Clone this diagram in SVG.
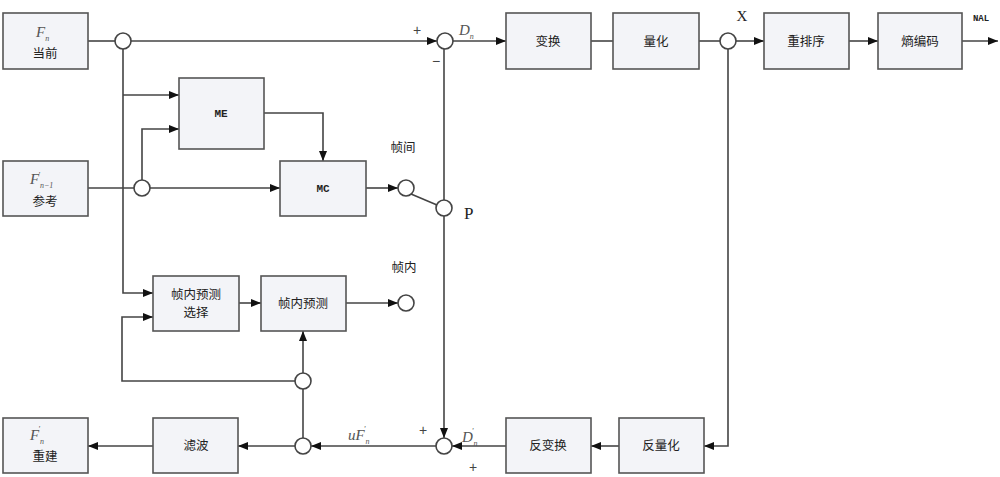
<svg xmlns="http://www.w3.org/2000/svg" width="1000" height="477" viewBox="0 0 1000 477">
<defs>
<marker id="ah" markerWidth="10" markerHeight="8" refX="10" refY="4" orient="auto" markerUnits="userSpaceOnUse">
<path d="M0,0 L10,4 L0,8 Z" fill="#111"/>
</marker>
<style>
.box{fill:#f3f4f8;stroke:#555;stroke-width:1.6}
.t{font-family:"Noto Sans CJK SC","Liberation Sans",sans-serif;font-size:12.5px;fill:#222;text-anchor:middle}
.m{font-family:"Liberation Mono",monospace;font-size:11px;font-weight:bold;fill:#222;text-anchor:middle}
.v{font-family:"Liberation Serif",serif;font-style:italic;font-size:15px;fill:#555}
.s{font-family:"Liberation Serif",serif;font-style:italic;font-size:8px;fill:#555}
.sg{font-family:"Liberation Sans",sans-serif;font-size:14px;fill:#444;text-anchor:middle}
.ln{fill:none;stroke:#444;stroke-width:1.6}
.cir{fill:#fff;stroke:#444;stroke-width:1.6}
</style>
</defs>
<rect width="1000" height="477" fill="#fff"/>
<g id="connectors">
<path class="ln" d="M88,41 H115"/>
<path class="ln" d="M131,41 H437" marker-end="url(#ah)"/>
<path class="ln" d="M123,49 V293 H153" marker-end="url(#ah)"/>
<path class="ln" d="M123,95 H179" marker-end="url(#ah)"/>
<path class="ln" d="M88,188 H134"/>
<path class="ln" d="M150,188 H280" marker-end="url(#ah)"/>
<path class="ln" d="M142,180 V129 H179" marker-end="url(#ah)"/>
<path class="ln" d="M264,113 H323 V161" marker-end="url(#ah)"/>
<path class="ln" d="M366,188 H398" marker-end="url(#ah)"/>
<path class="ln" d="M411,194 L437,205"/>
<path class="ln" d="M453,41 H506" marker-end="url(#ah)"/>
<path class="ln" d="M591,41 H613"/>
<path class="ln" d="M699,41 H720"/>
<path class="ln" d="M736,41 H764" marker-end="url(#ah)"/>
<path class="ln" d="M849,41 H878" marker-end="url(#ah)"/>
<path class="ln" d="M962,41 H998" marker-end="url(#ah)"/>
<path class="ln" d="M444,49 V200"/>
<path class="ln" d="M444,216 V438" marker-end="url(#ah)"/>
<path class="ln" d="M728,49 V446 H704" marker-end="url(#ah)"/>
<path class="ln" d="M619,446 H591" marker-end="url(#ah)"/>
<path class="ln" d="M506,446 H452" marker-end="url(#ah)"/>
<path class="ln" d="M436,446 H311" marker-end="url(#ah)"/>
<path class="ln" d="M295,446 H238" marker-end="url(#ah)"/>
<path class="ln" d="M153,446 H88" marker-end="url(#ah)"/>
<path class="ln" d="M303,438 V389"/>
<path class="ln" d="M303,373 V331" marker-end="url(#ah)"/>
<path class="ln" d="M295,381 H122 V317 H153" marker-end="url(#ah)"/>
<path class="ln" d="M239,303 H261" marker-end="url(#ah)"/>
<path class="ln" d="M346,303 H398" marker-end="url(#ah)"/>
</g>
<g id="junctions">
<circle class="cir" cx="123" cy="41" r="8"/>
<circle class="cir" cx="142" cy="188" r="8"/>
<circle class="cir" cx="406" cy="188" r="8"/>
<circle class="cir" cx="444" cy="208" r="8"/>
<circle class="cir" cx="445" cy="41" r="8"/>
<circle class="cir" cx="728" cy="41" r="8"/>
<circle class="cir" cx="444" cy="446" r="8"/>
<circle class="cir" cx="303" cy="446" r="8"/>
<circle class="cir" cx="303" cy="381" r="8"/>
<circle class="cir" cx="406" cy="303" r="8"/>
</g>
<g id="current">
<rect class="box" x="3" y="13" width="85" height="56"/>
<text x="36" y="37"><tspan class="v">F</tspan><tspan class="s" dy="4">n</tspan></text>
<text class="t" x="45" y="58">当前</text>
</g>
<g id="reference">
<rect class="box" x="3" y="161" width="85" height="55"/>
<text x="30" y="184"><tspan class="v">F</tspan><tspan class="s" dx="-1" dy="-6">'</tspan><tspan class="s" dx="0" dy="10">n−1</tspan></text>
<text class="t" x="45" y="206">参考</text>
</g>
<g id="me">
<rect class="box" x="179" y="78" width="85" height="71"/>
<text class="m" x="221" y="117">ME</text>
</g>
<g id="mc">
<rect class="box" x="280" y="161" width="86" height="55"/>
<text class="m" x="323" y="192">MC</text>
</g>
<g id="transform">
<rect class="box" x="506" y="13" width="85" height="56"/>
<text class="t" x="548" y="46">变换</text>
</g>
<g id="quant">
<rect class="box" x="613" y="13" width="86" height="56"/>
<text class="t" x="656" y="46">量化</text>
</g>
<g id="reorder">
<rect class="box" x="764" y="13" width="85" height="56"/>
<text class="t" x="806" y="46">重排序</text>
</g>
<g id="entropy">
<rect class="box" x="878" y="13" width="84" height="56"/>
<text class="t" x="920" y="46">熵编码</text>
</g>
<g id="intra-select">
<rect class="box" x="153" y="276" width="86" height="55"/>
<text class="t" x="196" y="299">帧内预测</text>
<text class="t" x="196" y="317">选择</text>
</g>
<g id="intra-pred">
<rect class="box" x="261" y="276" width="85" height="55"/>
<text class="t" x="303" y="308">帧内预测</text>
</g>
<g id="recon">
<rect class="box" x="3" y="418" width="85" height="55"/>
<text x="30" y="440"><tspan class="v">F</tspan><tspan class="s" dx="-1" dy="-8">'</tspan><tspan class="s" dy="12">n</tspan></text>
<text class="t" x="45" y="461">重建</text>
</g>
<g id="filter">
<rect class="box" x="153" y="418" width="85" height="55"/>
<text class="t" x="196" y="450">滤波</text>
</g>
<g id="inv-transform">
<rect class="box" x="506" y="418" width="85" height="55"/>
<text class="t" x="548" y="450">反变换</text>
</g>
<g id="inv-quant">
<rect class="box" x="619" y="418" width="85" height="55"/>
<text class="t" x="661" y="450">反量化</text>
</g>
<g id="labels">
<text class="sg" x="417" y="35">+</text>
<text class="sg" x="436" y="66">−</text>
<text x="459" y="35"><tspan class="v">D</tspan><tspan class="s" dy="4">n</tspan></text>
<text class="t" x="403" y="152">帧间</text>
<text class="t" x="404" y="272">帧内</text>
<text x="464" y="219" style="font-family:'Liberation Serif',serif;font-size:17px;fill:#222">P</text>
<text x="742" y="21" style="font-family:'Liberation Serif',serif;font-size:15px;fill:#222;text-anchor:middle">X</text>
<text class="m" x="981" y="21" style="font-size:9px">NAL</text>
<text x="348" y="440"><tspan class="v">uF</tspan><tspan class="s" dx="-1" dy="-8">'</tspan><tspan class="s" dy="12">n</tspan></text>
<text x="462" y="442"><tspan class="v">D</tspan><tspan class="s" dx="-1" dy="-8">'</tspan><tspan class="s" dy="12">n</tspan></text>
<text class="sg" x="423" y="435">+</text>
<text class="sg" x="473" y="472">+</text>
</g>
</svg>
